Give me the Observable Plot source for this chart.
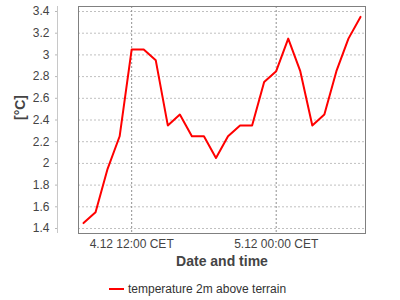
<!DOCTYPE html>
<html><head><meta charset="utf-8">
<script src="https://cdn.jsdelivr.net/npm/d3@7"></script>
<script src="https://cdn.jsdelivr.net/npm/@observablehq/plot@0.6"></script>
<style>
body{margin:0;background:#fff;font-family:"Liberation Sans",Arial,sans-serif;}
#chart svg{display:block;}
#legend{position:relative;width:400px;height:24px;font-size:12px;color:#333;}
#legend .sw{position:absolute;left:109px;top:12px;width:15px;height:2px;background:#ff0000;}
#legend .lbl{position:absolute;left:128px;top:1px;line-height:24px;white-space:nowrap;}
</style></head><body>
<div id="chart"></div>
<div id="legend"><span class="sw"></span><span class="lbl">temperature 2m above terrain</span></div>
<script>
const times = [
  "2023-12-04T08:00Z","2023-12-04T09:00Z","2023-12-04T10:00Z","2023-12-04T11:00Z",
  "2023-12-04T12:00Z","2023-12-04T13:00Z","2023-12-04T14:00Z","2023-12-04T15:00Z",
  "2023-12-04T16:00Z","2023-12-04T17:00Z","2023-12-04T18:00Z","2023-12-04T19:00Z",
  "2023-12-04T20:00Z","2023-12-04T21:00Z","2023-12-04T22:00Z","2023-12-04T23:00Z",
  "2023-12-05T00:00Z","2023-12-05T01:00Z","2023-12-05T02:00Z","2023-12-05T03:00Z",
  "2023-12-05T04:00Z","2023-12-05T05:00Z","2023-12-05T06:00Z","2023-12-05T07:00Z"
];
const temps = [1.45,1.55,1.95,2.25,3.05,3.05,2.95,2.35,2.45,2.25,2.25,2.05,
               2.25,2.35,2.35,2.75,2.85,3.15,2.85,2.35,2.45,2.85,3.15,3.35];
const yTicks = [1.4,1.6,1.8,2.0,2.2,2.4,2.6,2.8,3.0,3.2,3.4];
const xTickTimes = ["2023-12-04T12:00Z","2023-12-05T00:00Z"];
const xTickLabels = ["4.12 12:00 CET","5.12 00:00 CET"];
const xDomainStr = ["2023-12-04T07:35Z","2023-12-05T07:25Z"];
const yDomain = [1.354, 3.446];
const yLabel = "[°C]";
const xLabel = "Date and time";
const seriesName = "temperature 2m above terrain";

const data = times.map((t, i) => ({time: new Date(t), temp: temps[i]}));
const xTicks = xTickTimes.map(t => new Date(t));
const xDomain = xDomainStr.map(t => new Date(t));

const chart = Plot.plot({
  width: 400,
  height: 276,
  marginTop: 6,
  marginBottom: 43,
  marginLeft: 78,
  marginRight: 35,
  style: {fontFamily: "'Liberation Sans', Arial, sans-serif", fontSize: "12px", background: "#fff", color: "#444"},
  x: {type: "utc", domain: xDomain},
  y: {domain: yDomain},
  marks: [
    Plot.ruleY(yTicks, {stroke: "#c0c0c0", strokeDasharray: "2,2", strokeOpacity: 1}),
    Plot.ruleX(xTicks, {stroke: "#909090", strokeDasharray: "2,2", strokeOpacity: 1}),
    Plot.frame({stroke: "#808080", strokeOpacity: 1}),
    Plot.lineY(data, {x: "time", y: "temp", stroke: "#ff0000", strokeWidth: 2}),
    Plot.ruleX([xDomain[0]], {y1: yDomain[0], y2: yDomain[1], dx: -21, stroke: "#c8c8c8", strokeOpacity: 1}),
    Plot.axisY({ticks: yTicks, tickSize: 2, dx: -21, tickFormat: () => "", color: "#b8b8b8", label: null}),
    Plot.axisY({ticks: yTicks, tickSize: 0, tickPadding: 8, dx: -21, fontSize: 12, color: "#444",
      tickFormat: d => String(+d.toFixed(1)), label: null}),
    Plot.axisX({ticks: xTicks, tickSize: 0, tickPadding: 6, fontSize: 12, color: "#444",
      tickFormat: (d, i) => xTickLabels[i], label: null}),
    Plot.text([yLabel], {frameAnchor: "left", dx: -58, rotate: -90, fontWeight: "bold", fontSize: 14, fill: "#444"}),
    Plot.text([xLabel], {frameAnchor: "bottom", dy: 32, fontWeight: "bold", fontSize: 14, fill: "#444"})
  ]
});
document.getElementById("chart").appendChild(chart);
</script>
</body></html>
